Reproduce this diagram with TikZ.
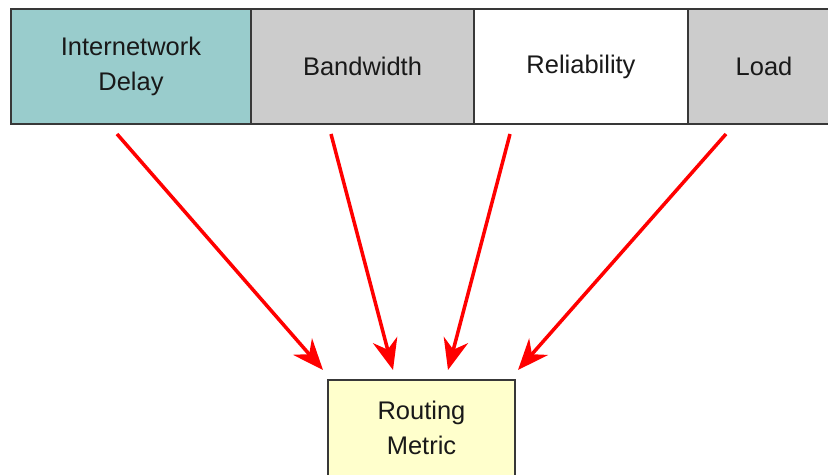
\documentclass[tikz,border=0pt]{standalone}
\usepackage{fontspec}
\setmainfont{Liberation Sans}
\usetikzlibrary{arrows.meta}
\definecolor{delayteal}{HTML}{99CCCC}
\definecolor{fieldgray}{HTML}{CCCCCC}
\definecolor{metricyellow}{HTML}{FFFFCC}
\definecolor{boxline}{HTML}{383838}
\definecolor{feedred}{HTML}{FF0000}

\begin{document}
\begin{tikzpicture}[x=0.02cm, y=-0.02cm,
    field/.style={draw=boxline, line width=1.2pt, rectangle, align=center, inner sep=0pt,
      minimum height=2.3cm, font=\fontsize{14.5}{19.5}\selectfont, text=black!90},
    feed/.style={draw=feedred, line width=2pt, -{Stealth[length=0.62cm, width=0.5cm, inset=0.2cm]}}]
          \clip (0,0) rectangle (828,475);
          % Top row of fields
          \node (delay)[field, fill=delayteal, minimum width=4.8cm] at (131,66.5) {Internetwork\\Delay};
          \node (band)[field, fill=fieldgray, minimum width=4.46cm] at (362.5,66.5) {Bandwidth};
          \node (rel)[field, fill=white, minimum width=4.28cm] at (581,66.5) {Reliability};
          \node (load)[field, fill=fieldgray, minimum width=3.04cm] at (764,66.5) {Load};

          % Result box
          \node (metric)[field, fill=metricyellow, minimum width=3.74cm, minimum height=1.92cm] at (421.5,428) {Routing\\Metric};

          % Arrow ends
          \coordinate (d1) at (117,134);
          \coordinate (b1) at (331,134);
          \coordinate (r1) at (510,134);
          \coordinate (l1) at (726,134);
          \coordinate (d2) at (323,370);
          \coordinate (b2) at (393,370);
          \coordinate (r2) at (448,370);
          \coordinate (l2) at (518,370);

          \draw[feed] (d1) -- (d2);
          \draw[feed] (b1) -- (b2);
          \draw[feed] (r1) -- (r2);
          \draw[feed] (l1) -- (l2);
\end{tikzpicture}
\end{document}
